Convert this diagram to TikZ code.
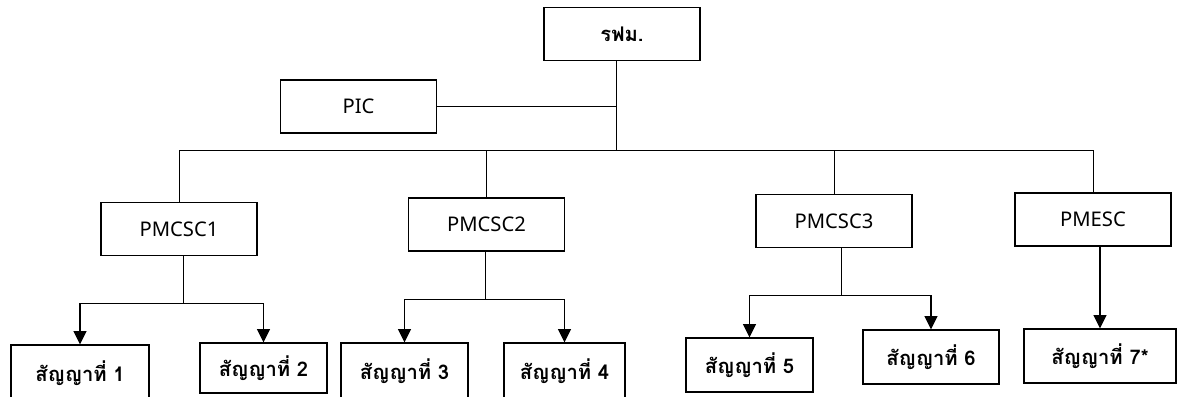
\documentclass[tikz,border=0pt]{standalone}
\usepackage{fontspec}
\setmainfont{Noto Sans}
\newfontfamily\thaifont[Script=Thai]{Loma}
\usetikzlibrary{arrows.meta}

\tikzset{
    unit/.style={draw, line width=0.6pt, inner sep=0pt, minimum width=3.12cm, minimum height=1.06cm,
        font=\fontsize{11.5}{13}\selectfont},
    contract/.style={draw, line width=0.6pt, inner sep=0pt, minimum height=1.08cm,
        font=\thaifont\bfseries\fontsize{11.5}{13}\selectfont},
    link/.style={line width=0.5pt},
    arr/.style={->, line width=1.1pt}
}

\begin{document}
\begin{tikzpicture}[x=0.02cm, y=-0.02cm, >={Triangle[length=7.6pt,width=7.2pt]}]
    \useasboundingbox (0,0) rectangle (1177,396);

    % top level
    \node[unit, font=\thaifont\bfseries\fontsize{11.5}{13}\selectfont] (rfm) at (622,34) {รฟม.};
    \node[unit] (pic) at (358.5,106.5) {PIC};
    \coordinate (hub) at (616,150);
    \draw[link] (rfm.south -| hub) -- (hub);
    \draw[link] (pic.east) -- (pic.east -| hub);

    % consultants
    \node[unit] (pm1) at (179,229) {PMCSC1};
    \node[unit] (pm2) at (486.5,224.5) {PMCSC2};
    \node[unit] (pm3) at (834,221) {PMCSC3};
    \node[unit] (pme) at (1093,219.5) {PMESC};
    \draw[link] (pm1.north |- hub) -- (pme.north |- hub);
    \draw[link] (pm1.north |- hub) -- (pm1.north);
    \draw[link] (pm2.north |- hub) -- (pm2.north);
    \draw[link] (pm3.north |- hub) -- (pm3.north);
    \draw[link] (pme.north |- hub) -- (pme.north);

    % contracts
    \node[contract, minimum width=2.76cm, minimum height=1.12cm] (c1) at (80,373) {สัญญาที่ 1};
    \node[contract, minimum width=2.54cm, minimum height=1.0cm] (c2) at (263.5,368) {สัญญาที่ 2};
    \node[contract, minimum width=2.54cm, minimum height=1.12cm] (c3) at (404.5,371) {สัญญาที่ 3};
    \node[contract, minimum width=2.42cm, minimum height=1.12cm] (c4) at (564.5,371) {สัญญาที่ 4};
    \node[contract, minimum width=2.54cm] (c5) at (749.5,365) {สัญญาที่ 5};
    \node[contract, minimum width=2.72cm] (c6) at (931,357) {สัญญาที่ 6};
    \node[contract, minimum width=3.04cm] (c7) at (1100,356) {สัญญาที่ 7*};

    \coordinate (s1) at (183,303);
    \coordinate (s2) at (485,299);
    \coordinate (s3) at (841,295);
    \draw[link] (pm1.south -| s1) -- (s1);
    \draw[link] (c1.north |- s1) -- (c2.north |- s1);
    \draw[arr] (c1.north |- s1) -- (c1.north);
    \draw[arr] (c2.north |- s1) -- (c2.north);

    \draw[link] (pm2.south -| s2) -- (s2);
    \draw[link] (c3.north |- s2) -- (c4.north |- s2);
    \draw[arr] (c3.north |- s2) -- (c3.north);
    \draw[arr] (c4.north |- s2) -- (c4.north);

    \draw[link] (pm3.south -| s3) -- (s3);
    \draw[link] (c5.north |- s3) -- (c6.north |- s3);
    \draw[arr] (c5.north |- s3) -- (c5.north);
    \draw[arr] (c6.north |- s3) -- (c6.north);

    \draw[arr] (pme.south -| c7) -- (c7.north);
\end{tikzpicture}
\end{document}
